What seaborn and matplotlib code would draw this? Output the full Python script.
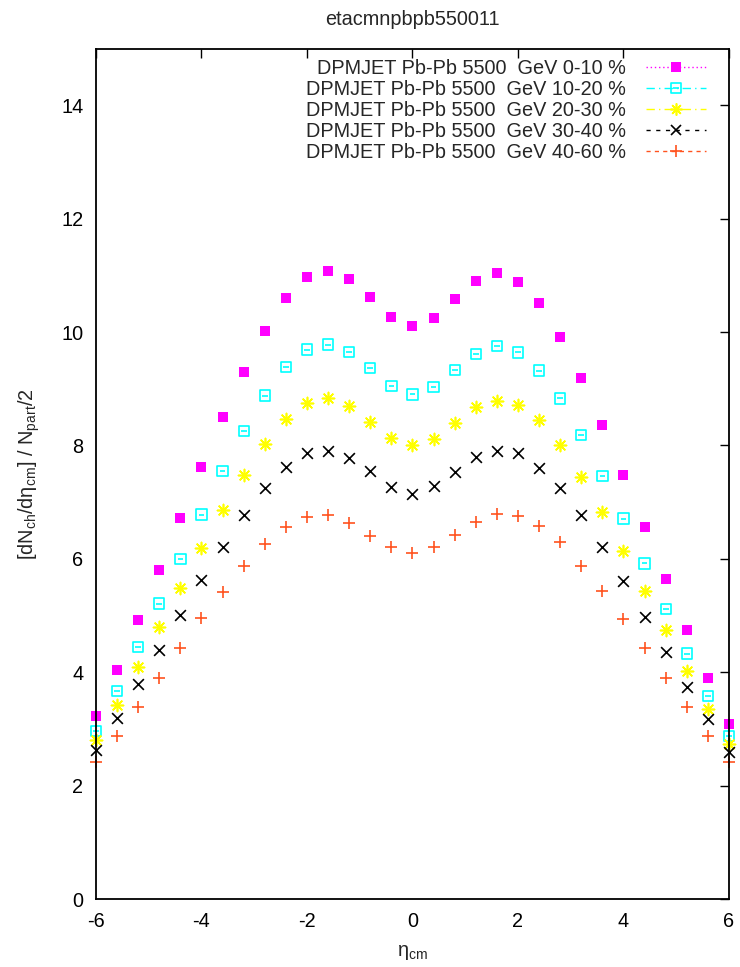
import numpy as np
import pandas as pd
import matplotlib
matplotlib.use("Agg")
import matplotlib.pyplot as plt
from matplotlib.lines import Line2D
from matplotlib.path import Path
import seaborn as sns

eta = [-6.0, -5.6, -5.2, -4.8, -4.4, -4.0, -3.6, -3.2, -2.8, -2.4, -2.0, -1.6, -1.2, -0.8, -0.4, 0.0,
       0.4, 0.8, 1.2, 1.6, 2.0, 2.4, 2.8, 3.2, 3.6, 4.0, 4.4, 4.8, 5.2, 5.6, 6.0]

c0_10 = [3.22, 4.04, 4.92, 5.80, 6.72, 7.62, 8.50, 9.30, 10.02, 10.60, 10.97, 11.07, 10.94, 10.62, 10.26, 10.11,
         10.25, 10.58, 10.90, 11.04, 10.88, 10.51, 9.92, 9.19, 8.36, 7.48, 6.56, 5.65, 4.75, 3.89, 3.08]
c10_20 = [2.96, 3.67, 4.44, 5.21, 6.00, 6.78, 7.55, 8.25, 8.88, 9.38, 9.69, 9.78, 9.65, 9.36, 9.05, 8.90,
          9.03, 9.33, 9.61, 9.75, 9.64, 9.32, 8.83, 8.18, 7.46, 6.71, 5.92, 5.12, 4.33, 3.58, 2.88]
c20_30 = [2.80, 3.43, 4.10, 4.80, 5.49, 6.19, 6.87, 7.48, 8.03, 8.47, 8.74, 8.83, 8.69, 8.42, 8.13, 8.01,
          8.12, 8.40, 8.67, 8.79, 8.72, 8.44, 8.00, 7.44, 6.82, 6.13, 5.44, 4.74, 4.02, 3.36, 2.73]
c30_40 = [2.63, 3.19, 3.79, 4.39, 5.01, 5.63, 6.21, 6.77, 7.25, 7.62, 7.86, 7.91, 7.77, 7.55, 7.27, 7.15,
          7.28, 7.53, 7.79, 7.90, 7.86, 7.61, 7.25, 6.77, 6.21, 5.61, 4.98, 4.36, 3.74, 3.17, 2.60]
c40_60 = [2.42, 2.88, 3.39, 3.89, 4.42, 4.95, 5.42, 5.87, 6.27, 6.57, 6.74, 6.77, 6.64, 6.41, 6.21, 6.10,
          6.20, 6.42, 6.65, 6.79, 6.75, 6.58, 6.29, 5.88, 5.44, 4.93, 4.42, 3.89, 3.38, 2.88, 2.41]

labels = ["DPMJET Pb-Pb 5500  GeV 0-10 %",
          "DPMJET Pb-Pb 5500  GeV 10-20 %",
          "DPMJET Pb-Pb 5500  GeV 20-30 %",
          "DPMJET Pb-Pb 5500  GeV 30-40 %",
          "DPMJET Pb-Pb 5500  GeV 40-60 %"]
series = [c0_10, c10_20, c20_30, c30_40, c40_60]

x_ticks = [-6, -4, -2, 0, 2, 4, 6]
y_ticks = [0, 2, 4, 6, 8, 10, 12, 14]

sns.set_style("white")
plt.rcParams["font.family"] = ["Liberation Sans", "DejaVu Sans"]
plt.rcParams["mathtext.fontset"] = "custom"
plt.rcParams["mathtext.rm"] = "Liberation Sans"
plt.rcParams["mathtext.it"] = "Liberation Sans:italic"

# boxed marker with inner bar (error bar seen inside the box)
box_path = Path([(-1, -1), (1, -1), (1, 1), (-1, 1), (-1, -1), (-0.55, 0), (0.55, 0)],
                [Path.MOVETO, Path.LINETO, Path.LINETO, Path.LINETO, Path.CLOSEPOLY, Path.MOVETO, Path.LINETO])

colors = ["#ff00ff", "#00ffff", "#ffff00", "#000000", "#ff531f"]
markers = ["s", box_path, (8, 2, 0), "x", "+"]
sizes = [55, 55, 75, 60, 70]
lstyles = [(0, (1, 2)), (0, (6, 3, 1, 3)), (0, (6, 3, 1, 3)), (0, (3, 4)), (0, (3, 3))]

fig = plt.figure(figsize=(7.4, 9.67), dpi=100)
ax = fig.add_axes([0.1297, 0.0703, 0.8554, 0.8795])

frames = []
for lab, vals in zip(labels, series):
    frames.append(pd.DataFrame({"eta": eta, "val": vals, "set": lab}))
df = pd.concat(frames, ignore_index=True)

for lab, col, mk, sz in zip(labels, colors, markers, sizes):
    sub = df[df["set"] == lab]
    if lab == labels[0]:
        sns.scatterplot(data=sub, x="eta", y="val", color=col, marker=mk, s=sz,
                        linewidth=0, ax=ax, legend=False, zorder=3, clip_on=False)
    else:
        sns.scatterplot(data=sub, x="eta", y="val", color=col, marker=mk, s=sz,
                        linewidth=1.2, ax=ax, legend=False, zorder=3, clip_on=False,
                        **({"facecolors": "none", "edgecolor": col} if lab == labels[1] else {}))

ax.set_xlim(-6, 6)
ax.set_ylim(0, 15)
ax.set_xticks(x_ticks)
ax.set_xticklabels([str(t) for t in x_ticks])
ax.set_yticks(y_ticks)
ax.set_yticklabels([str(t) for t in y_ticks])
ax.tick_params(axis="both", which="both", direction="in", length=6.5, width=1.0,
               top=True, right=True, labelsize=14.3, colors="black")
ax.tick_params(axis="x", pad=9)
ax.tick_params(axis="y", pad=9)
for sp in ax.spines.values():
    sp.set_linewidth(1.3)
    sp.set_color("black")
    sp.set_zorder(4)

ax.set_xlabel("η$_{\\rm cm}$", fontsize=14.3, labelpad=9)
ax.set_ylabel("[dN$_{\\rm ch}$/dη$_{\\rm cm}$] / N$_{\\rm part}$/2", fontsize=14.3, labelpad=14)
ax.set_title("etacmnpbpb550011", fontsize=14.3, pad=17)

handles = []
for col, mk, sz, ls, lab in zip(colors, markers, sizes, lstyles, labels):
    filled = lab == labels[0]
    h = Line2D([], [], color=col, linestyle=ls, linewidth=1.0, marker=mk,
               markersize=np.sqrt(sz), markerfacecolor=col if filled else "none",
               markeredgecolor=col, markeredgewidth=0 if filled else 1.2)
    handles.append(h)

leg = ax.legend(handles, labels, loc="upper right", markerfirst=False, frameon=False,
                fontsize=14.3, handlelength=3.0, handletextpad=1.0, labelspacing=0.1,
                borderaxespad=0.3, numpoints=1, bbox_to_anchor=(0.985, 1.004))

fig.savefig("out.png", dpi=100)
